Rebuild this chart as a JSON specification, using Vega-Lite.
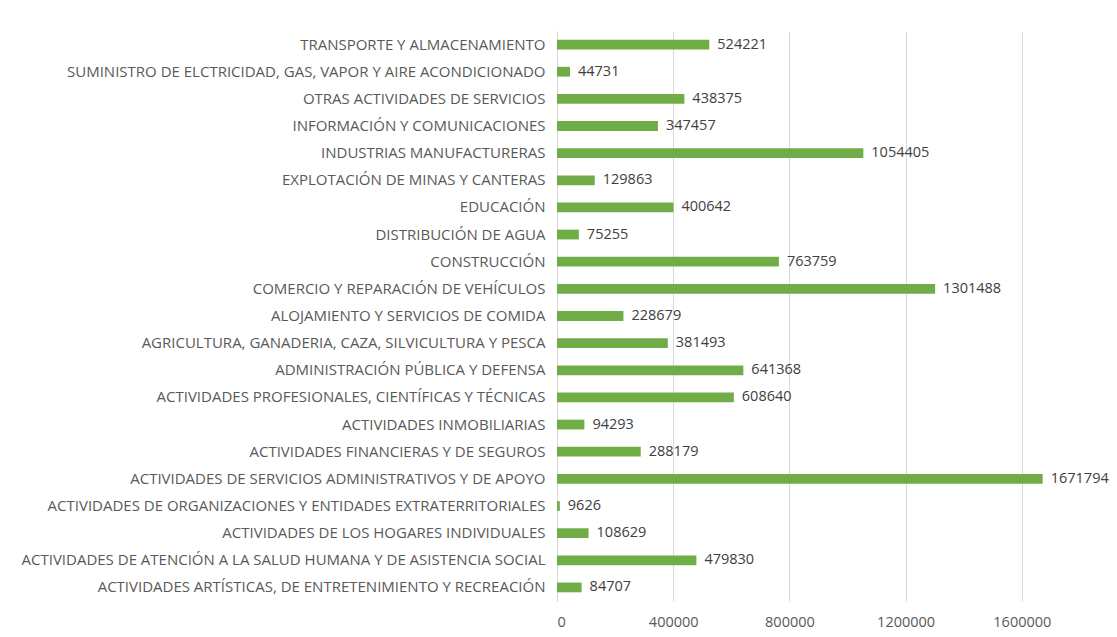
{
  "$schema": "https://vega.github.io/schema/vega-lite/v6.json",
  "autosize": {"type": "none"},
  "padding": {"left": 557, "top": 31, "right": 8, "bottom": 36},
  "width": 552,
  "height": 570,
  "background": "white",
  "data": {
    "values": [
      {"sector": "TRANSPORTE Y ALMACENAMIENTO", "valor": 524221},
      {"sector": "SUMINISTRO DE ELCTRICIDAD, GAS, VAPOR Y AIRE ACONDICIONADO", "valor": 44731},
      {"sector": "OTRAS ACTIVIDADES DE SERVICIOS", "valor": 438375},
      {"sector": "INFORMACIÓN Y COMUNICACIONES", "valor": 347457},
      {"sector": "INDUSTRIAS MANUFACTURERAS", "valor": 1054405},
      {"sector": "EXPLOTACIÓN DE MINAS Y CANTERAS", "valor": 129863},
      {"sector": "EDUCACIÓN", "valor": 400642},
      {"sector": "DISTRIBUCIÓN DE AGUA", "valor": 75255},
      {"sector": "CONSTRUCCIÓN", "valor": 763759},
      {"sector": "COMERCIO Y REPARACIÓN DE VEHÍCULOS", "valor": 1301488},
      {"sector": "ALOJAMIENTO Y SERVICIOS DE COMIDA", "valor": 228679},
      {"sector": "AGRICULTURA, GANADERIA, CAZA, SILVICULTURA Y PESCA", "valor": 381493},
      {"sector": "ADMINISTRACIÓN PÚBLICA Y DEFENSA", "valor": 641368},
      {"sector": "ACTIVIDADES PROFESIONALES, CIENTÍFICAS Y TÉCNICAS", "valor": 608640},
      {"sector": "ACTIVIDADES INMOBILIARIAS", "valor": 94293},
      {"sector": "ACTIVIDADES FINANCIERAS Y DE SEGUROS", "valor": 288179},
      {"sector": "ACTIVIDADES DE SERVICIOS ADMINISTRATIVOS Y DE APOYO", "valor": 1671794},
      {"sector": "ACTIVIDADES DE ORGANIZACIONES Y ENTIDADES EXTRATERRITORIALES", "valor": 9626},
      {"sector": "ACTIVIDADES DE LOS HOGARES INDIVIDUALES", "valor": 108629},
      {"sector": "ACTIVIDADES DE ATENCIÓN A LA SALUD HUMANA Y DE ASISTENCIA SOCIAL", "valor": 479830},
      {"sector": "ACTIVIDADES ARTÍSTICAS, DE ENTRETENIMIENTO Y RECREACIÓN", "valor": 84707}
    ]
  },
  "encoding": {
    "y": {
      "field": "sector",
      "type": "nominal",
      "sort": null,
      "scale": {"paddingInner": 0.64, "paddingOuter": 0.32},
      "axis": {
        "title": null,
        "ticks": false,
        "labelPadding": 12,
        "labelLimit": 0,
        "labelFont": "Open Sans",
        "labelFontSize": 15,
        "labelColor": "#595959",
        "domainColor": "#D9D9D9",
        "grid": false
      }
    },
    "x": {
      "field": "valor",
      "type": "quantitative",
      "scale": {"domain": [0, 1900000], "nice": false},
      "axis": {
        "title": null,
        "values": [0, 400000, 800000, 1200000, 1600000],
        "format": "d",
        "ticks": false,
        "domain": false,
        "grid": true,
        "gridColor": "#D9D9D9",
        "labelFont": "Open Sans",
        "labelFontSize": 14.5,
        "labelColor": "#595959",
        "labelPadding": 14
      }
    }
  },
  "layer": [
    {"mark": {"type": "bar", "color": "#70AD47"}},
    {
      "mark": {"type": "text", "align": "left", "baseline": "middle", "dx": 8, "font": "Open Sans", "fontSize": 14.5, "color": "#404040"},
      "encoding": {"text": {"field": "valor", "type": "quantitative", "format": "d"}}
    }
  ],
  "config": {"view": {"stroke": null}}
}
